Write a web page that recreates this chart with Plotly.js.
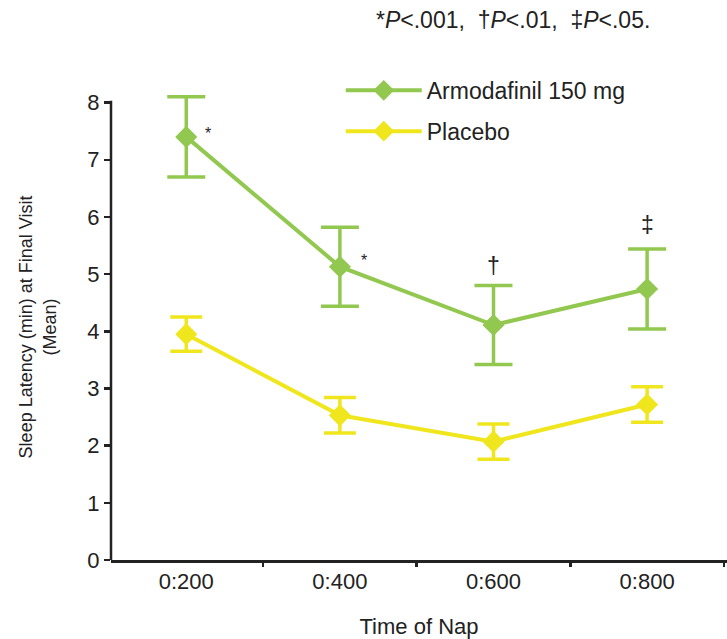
<!DOCTYPE html>
<html>
<head>
<meta charset="utf-8">
<script src="https://cdn.plot.ly/plotly-3.0.1.min.js"></script>
<style>html,body{margin:0;padding:0;background:#fff;}#chart{width:727px;height:639px;}</style>
</head>
<body>
<div id="chart"></div>
<script>
const categories = ["0:200", "0:400", "0:600", "0:800"];
const armodafinil = [7.40, 5.13, 4.11, 4.74];
const armodafinilErr = [0.70, 0.69, 0.69, 0.70];
const placebo = [3.95, 2.53, 2.07, 2.72];
const placeboErr = [0.30, 0.31, 0.31, 0.31];
const sigMarks = ["*", "*", "\u2020", "\u2021"];
const yTicks = [0, 1, 2, 3, 4, 5, 6, 7, 8];

const green = "#92C850";
const yellow = "#F0E61E";
const font = "Liberation Sans, Arial, Helvetica, sans-serif";

const traces = [
  {
    x: categories, y: armodafinil, name: "Armodafinil 150 mg", type: "scatter", mode: "lines+markers",
    legendgroup: "a", cliponaxis: false,
    line: {color: green, width: 4},
    marker: {symbol: "diamond", size: 17, color: green},
    error_y: {type: "data", array: armodafinilErr, visible: true, color: green, thickness: 3.5, width: 19}
  },
  {
    x: categories, y: placebo, name: "Placebo", type: "scatter", mode: "lines+markers",
    legendgroup: "b", cliponaxis: false,
    line: {color: yellow, width: 4},
    marker: {symbol: "diamond", size: 17, color: yellow},
    error_y: {type: "data", array: placeboErr, visible: true, color: yellow, thickness: 3.5, width: 16}
  }
];

const annotations = [
  {x: 0.14, y: 7.46, text: sigMarks[0], size: 16},
  {x: 1.16, y: 5.23, text: sigMarks[1], size: 16},
  {x: 2, y: 5.14, text: sigMarks[2], size: 23},
  {x: 3, y: 5.86, text: sigMarks[3], size: 23}
].map(a => ({xref: "x", yref: "y", showarrow: false, xanchor: "center", yanchor: "middle",
  x: a.x, y: a.y, text: a.text, font: {family: font, color: "#222", size: a.size}}));

annotations.push({
  xref: "paper", yref: "paper", x: 0.652, y: 1.159, xanchor: "center", yanchor: "middle", showarrow: false,
  text: "*<i>P</i>&lt;.001,  \u2020<i>P</i>&lt;.01,  \u2021<i>P</i>&lt;.05.",
  font: {family: font, size: 23, color: "#222"}
});

const layout = {
  width: 727, height: 639,
  margin: {l: 111, r: 0, t: 94, b: 79},
  paper_bgcolor: "#fff", plot_bgcolor: "#fff",
  font: {family: font, color: "#222"},
  showlegend: true,
  legend: {
    x: 0.373, y: 1.054, xanchor: "left", yanchor: "top",
    font: {family: font, size: 23, color: "#222"},
    itemwidth: 76,
    tracegroupgap: 8, traceorder: "grouped", bgcolor: "rgba(0,0,0,0)"
  },
  xaxis: {
    type: "category", range: [-0.49, 3.52],
    showline: true, linecolor: "#222", linewidth: 2.5,
    ticks: "outside", tickson: "boundaries", ticklen: 4, tickwidth: 2.5, tickcolor: "#222",
    showgrid: false, zeroline: false,
    tickfont: {family: font, size: 22, color: "#222"},
    title: {text: "Time of Nap", font: {family: font, size: 22, color: "#222"}, standoff: 26}
  },
  yaxis: {
    range: [0, 8.15], tickvals: yTicks,
    showline: false,
    ticks: "outside", ticklen: 6, tickwidth: 2.5, tickcolor: "#222",
    showgrid: false, zeroline: false,
    tickfont: {family: font, size: 22, color: "#222"},
    title: {text: "Sleep Latency (min) at Final Visit<br>(Mean)", font: {family: font, size: 18, color: "#222"}, standoff: 26}
  },
  shapes: [
    {type: "line", xref: "paper", yref: "y", x0: 0, x1: 0, y0: -0.03, y1: yTicks[yTicks.length - 1] + 0.03,
     line: {color: "#222", width: 2.5}, layer: "above"}
  ],
  annotations: annotations
};

Plotly.newPlot("chart", traces, layout, {displayModeBar: false, staticPlot: true});
</script>
</body>
</html>
